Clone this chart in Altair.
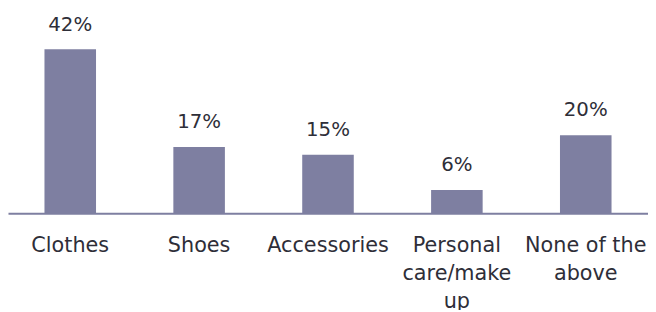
import altair as alt
import pandas as pd

categories = ["Clothes", "Shoes", "Accessories", "Personal care/make up", "None of the above"]
values = [42, 17, 15, 6, 20]
value_labels = ["42%", "17%", "15%", "6%", "20%"]

df = pd.DataFrame({"category": categories, "value": values, "label": value_labels})

label_expr = (
    "split(datum.value == 'Personal care/make up' ? 'Personal|care/make|up' : "
    "datum.value == 'None of the above' ? 'None of the|above' : datum.value, '|')"
)

FONT = "DejaVu Sans"
BAR = "#7e7fa1"
TXT = "#2e2e38"

x = alt.X(
    "category:N",
    sort=categories,
    scale=alt.Scale(paddingInner=0.6, paddingOuter=0.283),
    axis=alt.Axis(
        title=None,
        labelAngle=0,
        ticks=False,
        domain=True,
        domainColor=BAR,
        domainWidth=2,
        labelFont=FONT,
        labelFontSize=21,
        labelColor=TXT,
        labelPadding=22,
        labelLineHeight=28,
        labelExpr=label_expr,
        labelLimit=0,
        grid=False,
    ),
)
y = alt.Y(
    "value:Q",
    scale=alt.Scale(domain=[0, 52.1], nice=False),
    axis=None,
)

bars = alt.Chart(df).mark_bar(color=BAR).encode(x=x, y=y)
text = alt.Chart(df).mark_text(
    font=FONT, fontSize=20, color=TXT, baseline="alphabetic", dy=-19
).encode(x=alt.X("category:N", sort=categories), y="value:Q", text="label:N")

chart = (
    alt.layer(bars, text)
    .properties(
        width=648,
        height=206,
        background="white",
        autosize=alt.AutoSizeParams(type="none"),
        padding={"left": 0, "top": 0, "right": 0, "bottom": 96},
    )
    .configure_view(stroke="transparent", strokeWidth=0)
)

chart.save("out.html", embed_options={"renderer": "svg", "actions": False})
